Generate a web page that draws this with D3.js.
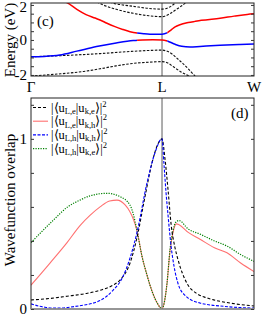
<!DOCTYPE html>
<html><head><meta charset="utf-8">
<script src="https://cdn.jsdelivr.net/npm/d3@7"></script>
<style>body{margin:0;background:#fff}svg{display:block}text{font-family:"Liberation Serif","Times New Roman",serif}</style>
</head><body>
<script>
// ---------- data ----------
const kPoints = [{label:"Γ",k:0},{label:"L",k:1},{label:"W",k:1.702}];
// top panel: band energies (eV) as [k, E]
const bandUpper = [[0.2,2.4],[0.282,2.1],[0.35,1.75],[0.42,1.45],[0.489,1.25],[0.527,1.14],[0.58,0.95],[0.641,0.76],[0.70,0.6],[0.756,0.47],[0.809,0.39],[0.86,0.35],[0.908,0.33],[0.96,0.33],[1.0,0.33],[1.038,0.4],[1.07,0.58],[1.10,0.75],[1.137,0.87],[1.2,0.99],[1.252,1.06],[1.30,1.12],[1.443,1.24],[1.55,1.36],[1.65,1.46],[1.702,1.49]];
const bandLower = [[0,-0.96],[0.1,-0.94],[0.22,-0.86],[0.35,-0.64],[0.5,-0.38],[0.65,-0.17],[0.78,-0.03],[0.85,0.0],[0.93,0.01],[1.0,0.0],[1.04,-0.06],[1.1,-0.25],[1.15,-0.36],[1.214,-0.4],[1.29,-0.37],[1.443,-0.31],[1.595,-0.26],[1.702,-0.23]];
const colorSwitch = [0.81, 1.04];
const bandsBlack = [
  [[0.55,2.4],[0.626,2.1],[0.7,2.0],[0.78,1.92],[0.9,1.8],[1.0,1.76],[1.05,1.85],[1.099,2.1],[1.13,2.35]],
  [[0.45,2.4],[0.55,2.0],[0.65,1.75],[0.78,1.52],[0.9,1.38],[1.0,1.33],[1.06,1.5],[1.12,1.8],[1.176,2.1],[1.2,2.3]],
  [[0,-0.96],[0.22,-0.9],[0.527,-0.78],[0.756,-0.66],[0.908,-0.6],[1.0,-0.58],[1.04,-0.65],[1.08,-0.82],[1.115,-1.05],[1.16,-1.35],[1.2,-1.65],[1.25,-2.05],[1.29,-2.35]],
  [[0,-2.06],[0.2,-1.95],[0.4,-1.8],[0.527,-1.65],[0.65,-1.48],[0.756,-1.36],[0.9,-1.27],[1.0,-1.24],[1.04,-1.3],[1.084,-1.52],[1.15,-1.85],[1.214,-2.1],[1.25,-2.3]]
];
const energyTicks = [-2,-1.5,-1,-0.5,0,0.5,1,1.5,2];
const energyLabels = [-2,0,2];
// bottom panel: overlaps as [k, value]
const overlapEE = [[0,0.053],[0.145,0.062],[0.275,0.075],[0.412,0.09],[0.527,0.11],[0.626,0.14],[0.679,0.17],[0.756,0.27],[0.809,0.42],[0.87,0.66],[0.924,0.86],[0.969,0.97],[1.0,1.0],[1.023,0.88],[1.046,0.7],[1.069,0.5],[1.099,0.36],[1.122,0.29],[1.191,0.15],[1.267,0.09],[1.344,0.065],[1.519,0.035],[1.702,0.018]];
const overlapEH = [[0,0.14],[0.145,0.27],[0.275,0.39],[0.374,0.49],[0.45,0.55],[0.527,0.6],[0.6,0.635],[0.656,0.64],[0.72,0.61],[0.756,0.57],[0.78,0.53],[0.809,0.46],[0.847,0.31],[0.885,0.2],[0.908,0.14],[0.947,0.06],[0.985,0.01],[1.0,0],[1.015,0.03],[1.038,0.15],[1.061,0.34],[1.084,0.45],[1.11,0.5],[1.13,0.495],[1.2,0.45],[1.29,0.41],[1.4,0.36],[1.496,0.33],[1.6,0.27],[1.702,0.22]];
const overlapHH = [[0,0.03],[0.107,0.01],[0.198,0.005],[0.336,0.015],[0.527,0.05],[0.626,0.11],[0.695,0.18],[0.756,0.3],[0.809,0.45],[0.885,0.74],[0.947,0.92],[1.0,1.0],[1.015,0.85],[1.031,0.68],[1.046,0.55],[1.069,0.37],[1.092,0.25],[1.122,0.15],[1.176,0.08],[1.29,0.035],[1.481,0.015],[1.702,0.005]];
const overlapHE = [[0,0.39],[0.168,0.52],[0.28,0.6],[0.374,0.64],[0.45,0.665],[0.58,0.68],[0.68,0.66],[0.756,0.61],[0.78,0.56],[0.809,0.46],[0.847,0.31],[0.885,0.2],[0.908,0.14],[0.947,0.06],[0.985,0.01],[1.0,0],[1.015,0.03],[1.038,0.15],[1.061,0.35],[1.084,0.46],[1.105,0.51],[1.13,0.52],[1.2,0.47],[1.29,0.44],[1.4,0.4],[1.496,0.37],[1.6,0.32],[1.702,0.28]];
const overlapTicks = [0,0.2,0.4,0.6,0.8,1.0,1.2];
const overlapLabels = [0,1];
const legendSeries = [
  {a:"L,e",b:"k,e",data:overlapEE,color:"#000",dash:"3,2",w:1.1},
  {a:"L,e",b:"k,h",data:overlapEH,color:"#ff7070",dash:null,w:1.1},
  {a:"L,h",b:"k,h",data:overlapHH,color:"#0000ff",dash:"3,1.5",w:1.1},
  {a:"L,h",b:"k,e",data:overlapHE,color:"#008000",dash:"1.2,1.3",w:1.2}
];

// ---------- layout ----------
const W=266,H=325, X0=31, X1=254;
const svg=d3.select("body").append("svg").attr("width",W).attr("height",H);
const x=d3.scaleLinear().domain([0,1.702]).range([X0,X1]);
const yT=d3.scaleLinear().domain([-2.06,2.11]).range([76,3]);
const yB=d3.scaleLinear().domain([0,1.24]).range([309,98]);
const defs=svg.append("defs");
function clip(id,x0,x1,y0,y1){defs.append("clipPath").attr("id",id).append("rect").attr("x",x0).attr("y",y0).attr("width",x1-x0).attr("height",y1-y0);}
clip("cTop",X0,X1,3,76);
clip("cBot",X0,X1,98,309);
clip("cA",X0,x(colorSwitch[0]),3,76);
clip("cB",x(colorSwitch[0]),x(colorSwitch[1]),3,76);
clip("cC",x(colorSwitch[1]),X1,3,76);

// ---------- top panel ----------
const lineT=d3.line().x(d=>x(d[0])).y(d=>yT(d[1])).curve(d3.curveMonotoneX);
const gT=svg.append("g");
gT.append("line").attr("x1",x(1)).attr("x2",x(1)).attr("y1",3).attr("y2",76).attr("stroke","#999").attr("stroke-width",1.6);
const gTc=gT.append("g").attr("clip-path","url(#cTop)");
bandsBlack.forEach(b=>gTc.append("path").attr("d",lineT(b)).attr("fill","none").attr("stroke","#111").attr("stroke-width",1.1).attr("stroke-dasharray","2.5,1.5"));
[["cA","#ff0000","#0000ff"],["cB","#0000ff","#ff0000"],["cC","#ff0000","#0000ff"]].forEach(([c,cu,cl])=>{
  const g=gT.append("g").attr("clip-path","url(#"+c+")");
  g.append("path").attr("d",lineT(bandUpper)).attr("fill","none").attr("stroke",cu).attr("stroke-width",1.5);
  g.append("path").attr("d",lineT(bandLower)).attr("fill","none").attr("stroke",cl).attr("stroke-width",1.5);
});
gT.append("rect").attr("x",X0).attr("y",3).attr("width",X1-X0).attr("height",73).attr("fill","none").attr("stroke","#222").attr("stroke-width",1);
gT.append("g").attr("transform",`translate(${X0},0)`).call(d3.axisLeft(yT).tickValues(energyTicks).tickSizeInner(-3).tickSizeOuter(0).tickPadding(4).tickFormat(d=>energyLabels.includes(d)?String(d):""))
  .call(g=>{g.select(".domain").remove();g.selectAll("text").attr("font-size",15).attr("font-family","Liberation Serif");g.selectAll("line").attr("stroke","#333");
    g.selectAll("text").filter(d=>d===2).attr("dy","0.42em");});
gT.append("g").attr("transform",`translate(${X1},0)`).call(d3.axisRight(yT).tickValues(energyTicks).tickSizeInner(-3).tickSizeOuter(0).tickFormat(""))
  .call(g=>{g.select(".domain").remove();g.selectAll("line").attr("stroke","#333");});
kPoints.forEach(p=>gT.append("text").attr("x",x(p.k)).attr("y",92).attr("text-anchor","middle").attr("font-size",15).text(p.label));
gT.append("text").attr("x",37).attr("y",26).attr("font-size",15).text("(c)");
svg.append("text").attr("transform","translate(15,40) rotate(-90)").attr("text-anchor","middle").attr("font-size",15).text("Energy (eV)");

// ---------- bottom panel ----------
const lineB=d3.line().x(d=>x(d[0])).y(d=>yB(d[1])).curve(d3.curveMonotoneX);
const gB=svg.append("g");
gB.append("line").attr("x1",x(1)).attr("x2",x(1)).attr("y1",98).attr("y2",309).attr("stroke","#999").attr("stroke-width",1.6);
const gBc=gB.append("g").attr("clip-path","url(#cBot)");
[legendSeries[1],legendSeries[3],legendSeries[0],legendSeries[2]].forEach(s=>{
  gBc.append("path").attr("d",lineB(s.data)).attr("fill","none").attr("stroke",s.color).attr("stroke-width",s.w).attr("stroke-dasharray",s.dash);
});
gB.append("rect").attr("x",X0).attr("y",98).attr("width",X1-X0).attr("height",211).attr("fill","none").attr("stroke","#222").attr("stroke-width",1);
gB.append("line").attr("x1",X0).attr("x2",X1).attr("y1",yB(0)).attr("y2",yB(0)).attr("stroke","#999").attr("stroke-width",1.6);
gB.append("g").attr("transform",`translate(${X0},0)`).call(d3.axisLeft(yB).tickValues(overlapTicks).tickSizeInner(-3).tickSizeOuter(0).tickPadding(4).tickFormat(d=>overlapLabels.includes(d)?String(d):""))
  .call(g=>{g.select(".domain").remove();g.selectAll("text").attr("font-size",15).attr("font-family","Liberation Serif");g.selectAll("line").attr("stroke","#333");});
gB.append("g").attr("transform",`translate(${X1},0)`).call(d3.axisRight(yB).tickValues(overlapTicks).tickSizeInner(-3).tickSizeOuter(0).tickFormat(""))
  .call(g=>{g.select(".domain").remove();g.selectAll("line").attr("stroke","#333");});
gB.append("text").attr("x",231).attr("y",118).attr("font-size",15).text("(d)");
svg.append("text").attr("transform","translate(15,200) rotate(-90)").attr("text-anchor","middle").attr("font-size",15).text("Wavefunction overlap");

// legend
legendSeries.forEach((s,i)=>{
  const yy=107.5+i*13.7;
  gB.append("line").attr("x1",33).attr("x2",48).attr("y1",yy).attr("y2",yy).attr("stroke",s.color).attr("stroke-width",s.w).attr("stroke-dasharray",s.dash);
  const t=gB.append("text").attr("x",51).attr("y",yy+4).attr("font-size",12.5);
  t.append("tspan").text("|⟨u");
  t.append("tspan").attr("font-size",8.5).attr("dy",2.5).text(s.a);
  t.append("tspan").attr("dy",-2.5).text("|u");
  t.append("tspan").attr("font-size",8.5).attr("dy",2.5).text(s.b);
  t.append("tspan").attr("dy",-2.5).text("⟩|");
  t.append("tspan").attr("font-size",8.5).attr("dy",-5).text("2");
});
</script>
</body></html>
